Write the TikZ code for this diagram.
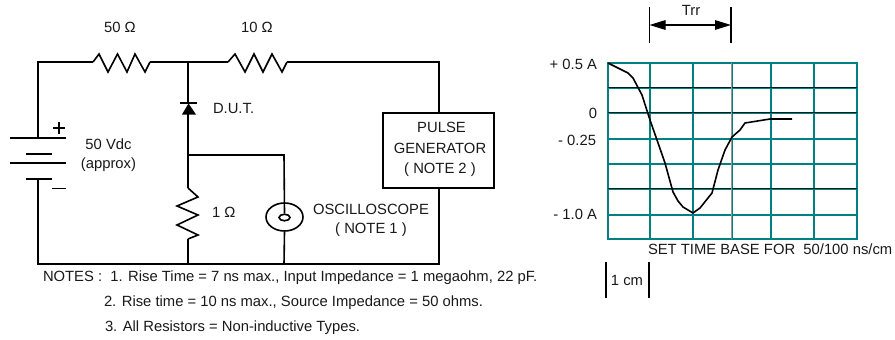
\documentclass[tikz,border=0pt]{standalone}
\usepackage{fontspec}
\setmainfont{Liberation Sans}
\usetikzlibrary{arrows.meta,shapes.geometric}
\definecolor{gridteal}{HTML}{008080}
\tikzset{
  wire/.style={line width=1.6pt,black,line join=miter},
  lbl/.style={inner sep=0pt,outer sep=0pt,font=\fontsize{14.8}{17}\selectfont,text=black!90},
  grid line/.style={line width=2.1pt,gridteal},
  grid dark/.style={line width=0.7pt,black!75!gridteal},
  grid pale/.style={line width=0.7pt,black!40},
  trace/.style={line width=1.6pt,black,line join=round},
  dimline/.style={line width=1.5pt,black},
  dimarrow/.style={line width=1.3pt,black,{Triangle[length=16pt,width=9.5pt]}-{Triangle[length=16pt,width=9.5pt]}},
}
\begin{document}
\begin{tikzpicture}[x=1pt,y=-1pt]
\useasboundingbox (0,0) rectangle (895,340);
% circuit corners
\coordinate (tl) at (38,62);
\coordinate (bl) at (38,264);
\coordinate (tj) at (188,62);
\coordinate (tr) at (439,62);
\coordinate (br) at (439,264);
\coordinate (bj) at (188,264);
\coordinate (bs) at (284,264);
\coordinate (mj) at (188,155);
\coordinate (ms) at (284,155);
\coordinate (b1) at (38,138);
\coordinate (b4) at (38,179);
\coordinate (d1) at (188,104);
\coordinate (d2) at (188,114);
\coordinate (r3a) at (188,188);
\coordinate (r3b) at (188,239);
\coordinate (r1a) at (93,62);
\coordinate (r1b) at (150,62);
\coordinate (r2a) at (228,62);
\coordinate (r2b) at (287,62);
% pulse generator
\node[draw,line width=1.6pt,minimum width=111pt,minimum height=75pt,inner sep=0pt] (pg) at (438.5,150.5) {};
\coordinate (pgt) at (439,113);
\coordinate (pgb) at (439,188);
% oscilloscope
\node[draw,line width=1.6pt,ellipse,minimum width=37pt,minimum height=28pt,inner sep=0pt] (osc) at (284.5,217) {};
\node[draw,line width=1.6pt,ellipse,minimum width=11pt,minimum height=6.5pt,inner sep=0pt] (osci) at (284.5,217.5) {};
% wiring
\draw[wire] (b1) -- (tl) -- (r1a);
\draw[wire] (r1a) -- (99,54) -- (108,72) -- (117.5,54) -- (127,72) -- (135,54) -- (145,72) -- (r1b);
\draw[wire] (r1b) -- (r2a);
\draw[wire] (r2a) -- (235,54) -- (245,72) -- (254,54) -- (263,72) -- (272,54) -- (282,72) -- (r2b);
\draw[wire] (r2b) -- (tr) -- (pgt);
\draw[wire] (pgb) -- (br) -- (bl) -- (b4);
\draw[wire] (tj) -- (d1);
\draw[wire] (d2) -- (mj) -- (r3a);
\draw[wire] (r3a) -- (198,197) -- (177,206) -- (198,215) -- (177,225) -- (198,235) -- (r3b);
\draw[wire] (r3b) -- (bj);
\draw[wire] (mj) -- (ms) -- (osci.north);
\draw[wire] (osc.south) -- (bs);
% battery
\draw[wire] (10,138) -- (66,138);
\draw[wire] (26,154) -- (52,154);
\draw[wire] (10,163) -- (66,163);
\draw[wire] (26,179) -- (52,179);
\draw[line width=1.9pt] (53,128) -- (65,128) (59,122) -- (59,134);
\draw[line width=1.7pt] (52,188.5) -- (66,188.5);
% diode
\draw[line width=1.7pt] (180,103) -- (197,103);
\fill[black] (188.5,103.5) -- (196,114.5) -- (182,114.5) -- cycle;
% grid
\foreach \gx in {608,650,693,732,771,814,857} \draw[grid line] (\gx,62.5) -- (\gx,239.5);
\foreach \gy in {63,88,113,139,189,215,239} \draw[grid line] (607,\gy) -- (858,\gy);
\draw[grid line,line width=2.8pt] (607,164) -- (858,164);
\foreach \gy in {87.7,112.7,188.7} \draw[grid dark] (608,\gy) -- (857,\gy);
\draw[grid pale] (731.2,63) -- (731.2,239);
% trace
\draw[trace] (608,63) -- (628,73) -- (633,78) -- (642,95) -- (650,120) -- (657,140) -- (665,163) -- (673,192) -- (678,201) -- (683,207) -- (693,213) -- (700,208) -- (712,193) -- (718,170) -- (725,150) -- (732,137) -- (740,130) -- (745,123) -- (770,119) -- (792,119);
% Trr dimension
\coordinate (tra) at (649.5,7);
\coordinate (trb) at (649.5,43);
\coordinate (tsa) at (731,7);
\coordinate (tsb) at (731,43);
\coordinate (tma) at (649.5,25);
\coordinate (tmb) at (731,25);
\draw[dimline] (tra) -- (trb);
\draw[dimline] (tsa) -- (tsb);
\draw[dimarrow] (tma) -- (tmb);
% 1 cm bars
\draw[dimline] (606,262) -- (606,298);
\draw[dimline] (649,262) -- (649,298);
% labels
\node[lbl] (l50) at (120,27) {50 Ω};
\node[lbl] (l10) at (257,27) {10 Ω};
\node[lbl,anchor=west] (ldut) at (213,108) {D.U.T.};
\node[lbl] (lv) at (108.5,144) {50 Vdc};
\node[lbl] (lap) at (108.5,165) {(approx)};
\node[lbl,anchor=west] (l1) at (212,212) {1 Ω};
\node[lbl] (pg1) at (441.5,127) {PULSE};
\node[lbl] (pg2) at (440,148) {GENERATOR};
\node[lbl] (pg3) at (440,170) {( NOTE 2 )};
\node[lbl] (os1) at (371,209) {OSCILLOSCOPE};
\node[lbl] (os2) at (371,230) {( NOTE 1 )};
\node[lbl,anchor=west] (n1) at (43,278) {NOTES :\ \ 1. Rise Time = 7 ns max., Input Impedance = 1 megaohm, 22 pF.};
\node[lbl,anchor=west] (n2) at (104,303) {2. Rise time = 10 ns max., Source Impedance = 50 ohms.};
\node[lbl,anchor=west] (n3) at (105,328) {3. All Resistors = Non-inductive Types.};
\node[lbl] (ltrr) at (691,10) {Trr};
\node[lbl,anchor=east] (y1) at (597,64) {+ 0.5 A};
\node[lbl,anchor=east] (y2) at (597,113) {0};
\node[lbl,anchor=east] (y3) at (596,140) {- 0.25};
\node[lbl,anchor=east] (y4) at (597,214) {- 1.0 A};
\node[lbl,anchor=west] (lset) at (648,249) {SET TIME BASE FOR\ \ 50/100 ns/cm};
\node[lbl] (lcm) at (627,280) {1 cm};
\end{tikzpicture}
\end{document}
